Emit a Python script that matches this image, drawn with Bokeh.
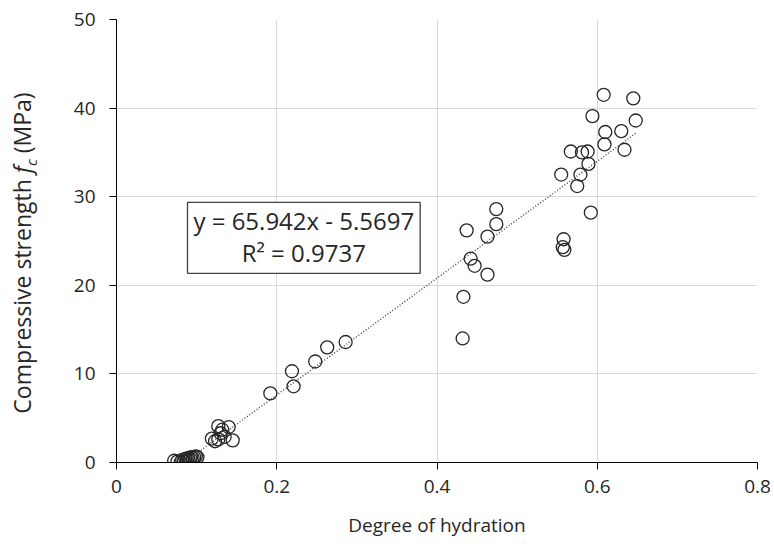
from bokeh.plotting import figure
from bokeh.models import Range1d, FixedTicker, BoxAnnotation, Label, Div
from bokeh.layouts import row
from bokeh.embed import file_html
from bokeh.resources import INLINE

# ---- data ----
hydration = [
    # upper cluster
    0.608, 0.645, 0.594, 0.648, 0.610, 0.630, 0.609, 0.634, 0.567, 0.581,
    0.588, 0.589, 0.579, 0.555, 0.575, 0.592, 0.558, 0.557, 0.559,
    # middle cluster
    0.474, 0.474, 0.437, 0.463, 0.442, 0.447, 0.463, 0.433, 0.432,
    # low-middle
    0.192, 0.221, 0.219, 0.248, 0.263, 0.286,
    # small cluster
    0.119, 0.123, 0.127, 0.130, 0.132, 0.135, 0.140, 0.145, 0.127,
    # bottom cluster
    0.072, 0.076, 0.080, 0.082, 0.084, 0.086, 0.088, 0.089, 0.090, 0.092,
    0.093, 0.095, 0.097, 0.099, 0.101,
]
strength = [
    41.5, 41.1, 39.1, 38.6, 37.3, 37.4, 35.9, 35.3, 35.1, 35.0,
    35.1, 33.7, 32.5, 32.5, 31.2, 28.2, 25.2, 24.3, 24.0,
    28.6, 26.9, 26.2, 25.5, 23.0, 22.2, 21.2, 18.7, 14.0,
    7.8, 8.6, 10.3, 11.4, 13.0, 13.6,
    2.7, 2.4, 4.1, 3.3, 3.7, 2.9, 4.0, 2.5, 2.6,
    0.2, 0.1, 0.0, 0.3, 0.1, 0.4, 0.2, 0.5, 0.3, 0.4,
    0.6, 0.5, 0.6, 0.7, 0.6,
]
slope = 65.942
intercept = -5.5697
r_squared = 0.9737

x_ticks = [0, 0.2, 0.4, 0.6, 0.8]
x_tick_labels = ["0", "0.2", "0.4", "0.6", "0.8"]
y_ticks = [0, 10, 20, 30, 40, 50]
y_tick_labels = ["0", "10", "20", "30", "40", "50"]

FONT = "Open Sans"
TXT = "#262626"
TITLE_W = 50  # width of the strip holding the vertical y title

p = figure(width=774 - TITLE_W, height=549, output_backend="svg",
           toolbar_location=None,
           x_range=Range1d(0, 0.8), y_range=Range1d(0, 50),
           min_border_left=116 - TITLE_W, min_border_right=17,
           min_border_top=19, min_border_bottom=87, margin=0)
p.outline_line_color = None
p.background_fill_color = "white"
p.border_fill_color = "white"

for ax in (p.xaxis[0], p.yaxis[0]):
    ax.axis_line_color = "black"
    ax.axis_line_width = 1
    ax.major_tick_line_color = "black"
    ax.major_tick_out = 7
    ax.major_tick_in = 0
    ax.minor_tick_line_color = None
    ax.major_label_text_font = FONT
    ax.major_label_text_font_size = "19px"
    ax.major_label_text_color = TXT
    ax.axis_label_text_font = FONT
    ax.axis_label_text_font_style = "normal"
    ax.axis_label_text_color = TXT

p.xaxis.ticker = FixedTicker(ticks=x_ticks)
p.yaxis.ticker = FixedTicker(ticks=y_ticks)
p.xaxis.major_label_overrides = {t: s for t, s in zip(x_ticks, x_tick_labels)}
p.yaxis.major_label_overrides = {t: s for t, s in zip(y_ticks, y_tick_labels)}
p.xaxis.major_label_standoff = 10
p.yaxis.major_label_standoff = 14
p.xaxis.axis_label = "Degree of hydration"
p.xaxis.axis_label_text_font_size = "19px"
p.xaxis.axis_label_standoff = 16
p.yaxis.axis_label = None

p.grid.grid_line_color = "#d9d9d9"
p.grid.grid_line_width = 1

# trend line over the data range
x0, x1 = min(hydration), max(hydration)
p.line([x0, x1], [slope * x0 + intercept, slope * x1 + intercept],
       line_color="#404040", line_width=1.4, line_dash="1 2")

p.scatter(hydration, strength, marker="circle", size=13, fill_color=None,
          line_color="#262626", line_width=1.3)

# equation box
box_left, box_right, box_top, box_bottom = 0.0886, 0.379, 29.35, 21.35
p.add_layout(BoxAnnotation(left=box_left, right=box_right, top=box_top,
                           bottom=box_bottom, fill_color="white", fill_alpha=1,
                           line_color="#404040", line_alpha=1, line_width=1.3,
                           level="annotation"))
cx = (box_left + box_right) / 2
p.add_layout(Label(x=cx, y=27.35, text=f"y = {slope}x - {abs(intercept)}",
                   text_align="center", text_baseline="middle", level="overlay",
                   text_font=FONT, text_font_size="24px", text_color=TXT))
p.add_layout(Label(x=cx, y=23.75, text=f"R² = {r_squared}",
                   text_align="center", text_baseline="middle", level="overlay",
                   text_font=FONT, text_font_size="24px", text_color=TXT))

# y axis title (italic f with subscript c) as rotated HTML text
y_title_html = (
    '<div style="position:absolute; left:25px; top:253px; '
    'transform:translate(-50%,-50%) rotate(-90deg); white-space:nowrap; '
    f"font-family:'{FONT}'; font-size:23px; color:{TXT}; line-height:1;\">"
    'Compressive strength <i>f</i><sub style="font-size:15px"><i>c</i></sub> (MPa)'
    '</div>'
)
title_div = Div(text=y_title_html, width=TITLE_W, height=549, margin=0,
                styles={"position": "relative", "overflow": "visible"})

layout = row(title_div, p, spacing=0, margin=0)
open("out.html", "w").write(file_html(layout, INLINE))
